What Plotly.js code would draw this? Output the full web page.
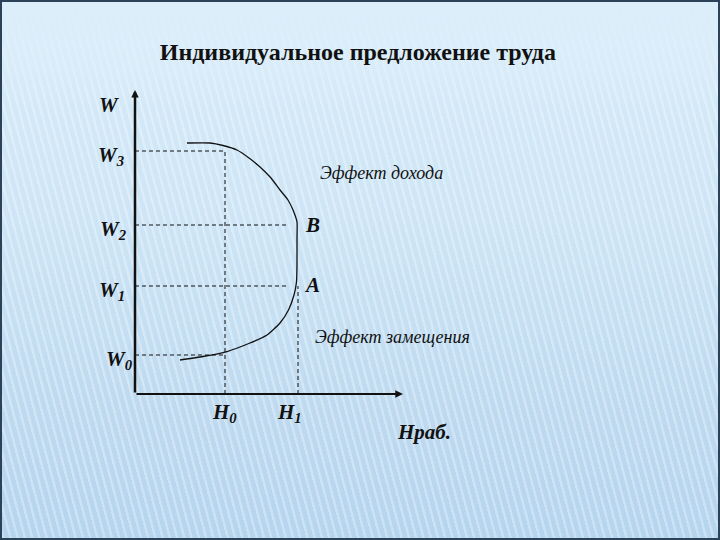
<!DOCTYPE html>
<html>
<head>
<meta charset="utf-8">
<script src="https://cdn.plot.ly/plotly-3.0.1.min.js"></script>
<style>
  html, body { margin:0; padding:0; width:720px; height:540px; overflow:hidden; }
  #bg {
    position:absolute; left:0; top:0; width:720px; height:540px; box-sizing:border-box;
    border:2px solid #2b4258;
    background:
      linear-gradient(180deg, rgba(220,238,250,1) 0px, rgba(220,238,250,0.0) 110px),
      repeating-linear-gradient(75deg, rgba(255,255,255,0.30) 0px, rgba(255,255,255,0.30) 2px, rgba(255,255,255,0) 3px, rgba(255,255,255,0) 7px),
      linear-gradient(180deg, #d8ecf9 0%, #cde5f6 40%, #bedaf0 75%, #b5d4ee 100%);
  }
  #chart { position:absolute; left:0; top:0; width:720px; height:540px; }
</style>
</head>
<body>
<div id="bg"></div>
<div id="chart"></div>
<script>
// Wage levels (W0..W3) and hours levels (H0, H1)
const wageLabels = ["W<sub>0</sub>", "W<sub>1</sub>", "W<sub>2</sub>", "W<sub>3</sub>"];
const wageLevels = [3.9, 10.8, 16.9, 24.3];
const hourLabels = ["H<sub>0</sub>", "H<sub>1</sub>"];
const hourLevels = [9.0, 16.3];
// Backward-bending labour supply curve (hours, wage)
const curveHours = [4.5, 6.8, 9.2, 11.5, 13.2, 14.5, 15.35, 15.9, 16.15, 16.2, 16.2, 16.2, 15.8, 15.3, 14.5, 13.6, 12.5, 11.4, 10.2, 8.8, 7.5, 5.2];
const curveWage  = [3.4, 3.75, 4.25, 5.1, 5.9, 7.1, 8.4, 9.9, 11.2, 13.0, 15.5, 17.2, 18.4, 19.4, 20.4, 21.6, 22.7, 23.6, 24.4, 24.85, 25.1, 25.1];
// Horizontal dashed guide ends (hours) per wage level
const wageGuideEnds = [9.0, 15.2, 15.2, 9.0];
// Vertical dashed guide tops (wage) per hours level
const hourGuideTops = [24.3, 10.8];
const axisMax = {hours: 26.8, wage: 30.4};

const title = "Индивидуальное предложение труда";
const effectIncome = "Эффект дохода";
const effectSubst = "Эффект замещения";
const pointLabels = ["A", "B"];

const FAM = "Liberation Serif, Times New Roman, serif";
const dash = {color:'#111', width:1, dash:'4px,3px'};
const traces = [];
wageLevels.forEach((w, i) => {
  traces.push({x:[0, wageGuideEnds[i]], y:[w, w], mode:'lines', line:dash, hoverinfo:'skip'});
});
hourLevels.forEach((h, i) => {
  traces.push({x:[h, h], y:[0, hourGuideTops[i]], mode:'lines', line:dash, hoverinfo:'skip'});
});
traces.push({x:curveHours, y:curveWage, mode:'lines', line:{color:'#111', width:1.3, shape:'spline', smoothing:0.5}, hoverinfo:'skip'});

const lab = {family:FAM, size:21, color:'#111'};
const ann = [];
// axes as arrows
ann.push({x:0, y:axisMax.wage, ax:0, ay:0, xref:'x', yref:'y', axref:'x', ayref:'y', showarrow:true, arrowhead:2, arrowsize:0.6, arrowwidth:2.5, arrowcolor:'#111', text:''});
ann.push({x:axisMax.hours, y:0, ax:0, ay:0, xref:'x', yref:'y', axref:'x', ayref:'y', showarrow:true, arrowhead:2, arrowsize:0.7, arrowwidth:2.2, arrowcolor:'#111', text:''});
// Axis labels
ann.push({x:-2.6, y:28.9, xref:'x', yref:'y', text:'<b><i>W</i></b>', showarrow:false, font:lab});
ann.push({x:28.9, y:-3.8, xref:'x', yref:'y', text:'<b><i>Hраб.</i></b>', showarrow:false, font:lab});
const wOff = [-1.6, -2.3, -2.2, -2.4];
wageLevels.forEach((w, i) => {
  ann.push({x:wOff[i], y:w - 0.5, xref:'x', yref:'y', text:'<b><i>' + wageLabels[i] + '</i></b>', showarrow:false, font:lab});
});
hourLevels.forEach((h, i) => {
  ann.push({x:h - 0.1 + i * (-0.8), y:-1.9, xref:'x', yref:'y', text:'<b><i>' + hourLabels[i] + '</i></b>', showarrow:false, font:lab});
});
ann.push({x:17.7, y:wageLevels[1] + 0.1, xref:'x', yref:'y', text:'<b><i>' + pointLabels[0] + '</i></b>', showarrow:false, font:lab});
ann.push({x:17.7, y:wageLevels[2], xref:'x', yref:'y', text:'<b><i>' + pointLabels[1] + '</i></b>', showarrow:false, font:lab});
const eff = {family:FAM, size:18, color:'#111'};
ann.push({x:24.6, y:22.1, xref:'x', yref:'y', text:'<i>' + effectIncome + '</i>', showarrow:false, font:eff});
ann.push({x:25.75, y:5.7, xref:'x', yref:'y', text:'<i>' + effectSubst + '</i>', showarrow:false, font:eff});

const layout = {
  width:720, height:540,
  margin:{l:0, r:0, t:0, b:0},
  paper_bgcolor:'rgba(0,0,0,0)', plot_bgcolor:'rgba(0,0,0,0)',
  showlegend:false,
  title:{text:'<b>' + title + '</b>', x:0.497, xanchor:'center', y:0.904, yanchor:'middle',
         font:{family:FAM, size:24, color:'#111'}},
  xaxis:{range:[-13.5, 58.5], visible:false, fixedrange:true},
  yaxis:{range:[-14.6, 39.4], visible:false, fixedrange:true},
  annotations:ann
};
Plotly.newPlot('chart', traces, layout, {staticPlot:true});
</script>
</body>
</html>
